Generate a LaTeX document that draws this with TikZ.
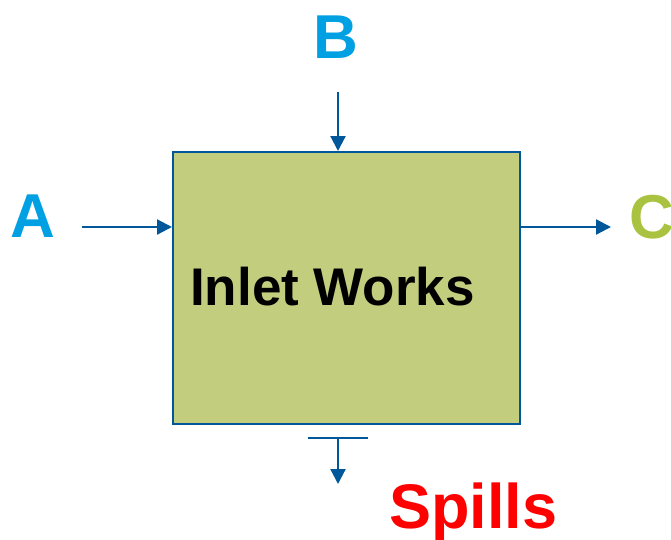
\documentclass[tikz,border=0pt]{standalone}
\usepackage{fontspec}
\setmainfont{Liberation Sans}
\usetikzlibrary{arrows.meta}
\definecolor{boxfill}{HTML}{C3CD7E}
\definecolor{lineblue}{HTML}{00589A}
\definecolor{textblue}{HTML}{00A0E3}
\definecolor{textgreen}{HTML}{A9C23F}
\definecolor{textred}{HTML}{FF0000}
\begin{document}
\begin{tikzpicture}[x=1pt,y=-1pt,
  conn/.style={draw=lineblue,line width=2.2pt,-{Triangle[length=15pt,width=15pt]}},
  lbl/.style={font=\bfseries\fontsize{62}{62}\selectfont,inner sep=0pt,anchor=base}]
\useasboundingbox (0,0) rectangle (671,539);
\node[draw=lineblue,line width=2.2pt,fill=boxfill,minimum width=347pt,minimum height=272pt,inner sep=0pt,anchor=north west] (box) at (172,151) {};
\node[inner sep=0pt,anchor=base west,font=\bfseries\fontsize{53}{53}\selectfont] (iw) at (190,305) {Inlet Works};
\node[lbl,text=textblue] (B) at (336,58) {B};
\node[lbl,text=textblue] (A) at (33,237) {A};
\node[lbl,text=textgreen,anchor=base west] (C) at (629,238) {C};
\node[inner sep=0pt,anchor=base west,text=textred,font=\bfseries\fontsize{63}{63}\selectfont] (sp) at (389,528) {Spills};
\coordinate (a0) at (82,227);
\coordinate (b0) at (338,92);
\coordinate (c1) at (611,227);
\coordinate (tl) at (308,438);
\coordinate (tr) at (368,438);
\coordinate (tm) at (338,438);
\coordinate (d1) at (338,484);
\draw[conn] (a0) -- (a0 -| box.west);
\draw[conn] (b0) -- (b0 |- box.north);
\draw[conn] (c1 -| box.east) -- (c1);
\draw[draw=lineblue,line width=2.2pt] (tl) -- (tr);
\draw[conn] (tm) -- (d1);
\end{tikzpicture}
\end{document}
